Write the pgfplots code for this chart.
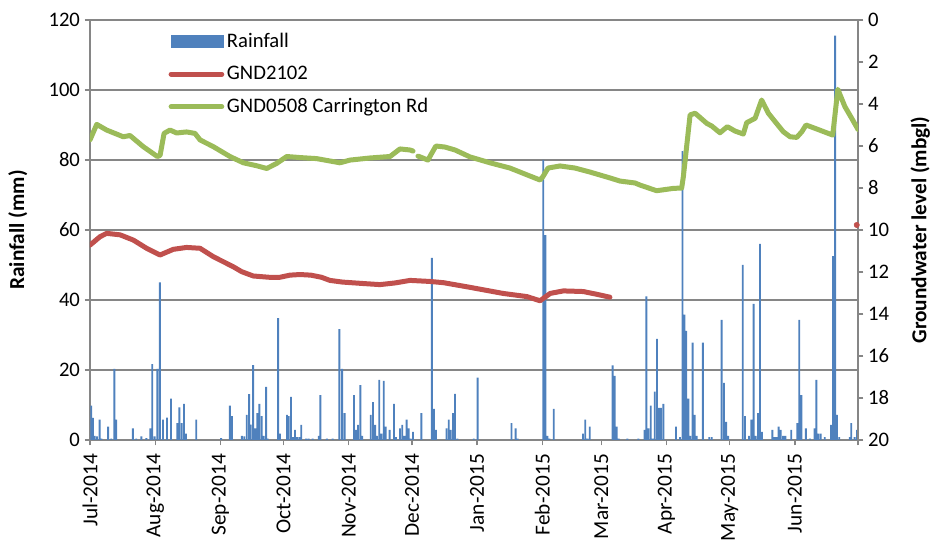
\documentclass[border=0pt]{standalone}
\usepackage{fontspec}
\setmainfont{Carlito}
\usepackage{pgfplots}
\pgfplotsset{compat=1.18}
\definecolor{rainblue}{HTML}{4F81BD}
\definecolor{gndred}{HTML}{C0504D}
\definecolor{gndgreen}{HTML}{9BBB59}
\definecolor{axgray}{HTML}{868686}

\pgfplotstableread{
day mm
0.6 9.8
1.4 6.3
2.2 1.2
3.3 1.0
4.6 5.8
5.4 0.4
8.6 3.8
10.1 0.4
11.6 20.3
12.5 5.8
20.4 3.3
22.0 0.4
24.4 1.0
26.8 0.5
28.7 3.3
29.6 21.7
30.7 1.0
32.0 20.3
33.2 45.0
34.7 5.8
36.6 6.4
38.5 11.8
41.5 4.8
42.5 9.3
43.6 4.8
44.7 10.3
45.6 1.8
50.5 5.8
62.3 0.5
66.5 9.8
67.5 6.8
72.2 1.2
73.3 1.0
74.5 7.2
75.6 13.1
76.4 4.4
77.5 21.4
78.6 3.3
79.5 7.7
80.5 10.3
81.6 6.8
82.5 1.2
83.7 15.2
84.4 0.4
89.4 34.8
90.3 1.8
93.6 7.2
94.4 6.8
95.5 12.3
96.5 0.8
97.4 2.9
98.4 0.8
99.5 0.8
100.4 4.3
102.7 0.4
103.9 0.4
105.8 0.4
108.7 1.2
109.5 12.8
112.6 0.4
115.3 0.4
118.5 31.7
119.8 20.3
121.0 7.7
125.5 12.8
126.4 2.9
127.4 4.3
128.5 15.7
129.4 1.2
133.4 7.2
134.5 10.8
135.5 4.3
136.4 1.2
137.5 17.2
138.5 1.8
139.6 16.9
140.5 3.8
142.4 2.9
144.5 10.3
145.4 0.8
147.3 3.3
148.4 4.3
149.4 1.2
150.5 5.8
151.5 3.3
152.4 0.4
153.5 2.3
157.5 7.7
162.5 52.0
163.5 8.9
164.4 2.9
169.4 3.3
170.5 5.8
171.4 2.9
172.5 7.7
173.5 13.2
174.6 0.4
182.4 0.4
184.2 17.8
200.3 4.8
202.3 3.3
203.3 0.4
215.4 80.0
216.4 58.5
217.4 1.2
218.3 0.4
220.4 8.9
234.3 1.8
235.4 5.8
236.4 0.4
237.5 3.8
248.4 21.3
249.4 18.3
250.3 3.8
251.3 0.4
255.4 0.4
260.6 0.4
263.5 2.9
264.4 41.0
265.4 3.3
266.5 9.8
267.4 0.4
268.4 13.8
269.5 28.9
270.4 9.2
271.4 9.2
272.5 10.3
278.5 3.8
280.4 0.8
281.6 82.5
282.5 35.8
283.4 31.2
284.4 11.8
285.3 1.2
286.4 27.8
287.4 7.2
288.3 1.2
291.3 27.8
294.3 0.8
295.5 0.8
300.2 34.3
301.3 16.3
302.3 5.2
303.3 1.2
310.2 50.0
311.3 6.8
313.2 1.2
314.3 5.8
315.4 38.9
316.4 1.2
317.5 7.7
318.4 56.0
319.4 2.3
324.3 2.9
325.4 0.8
326.4 0.8
327.3 3.8
328.3 2.9
329.4 1.2
330.5 1.2
333.3 2.9
336.2 4.8
337.1 34.3
338.1 12.8
340.2 3.3
342.1 0.4
344.3 3.3
345.2 17.2
346.2 1.8
347.3 1.8
349.2 0.8
352.2 4.3
353.1 52.5
354.1 115.5
355.0 7.2
356.1 0.8
361.1 0.8
361.8 4.8
363.4 0.8
364.5 2.9
}\rainfall

\pgfplotstableread{
day lvl
0 10.72
4.75 10.32
7.9 10.16
14.3 10.23
20.6 10.48
26.9 10.87
33.3 11.19
39.6 10.92
45.9 10.83
52.3 10.87
58.6 11.27
68.1 11.75
72.0 11.98
77.6 12.19
85.0 12.25
90.3 12.25
95.0 12.15
99.8 12.12
105.0 12.15
110.0 12.25
114.0 12.40
120.0 12.48
130.0 12.55
137.8 12.60
145.0 12.52
152.1 12.40
161.6 12.45
168.1 12.51
180.6 12.73
196.3 13.02
207.6 13.17
213.9 13.37
218.7 13.02
225.0 12.90
234.4 12.93
240.8 13.06
247.1 13.20
}\gndred

\pgfplotstableread{
day lvl
0 5.71
3.2 4.97
7.9 5.24
15.8 5.56
19 5.5
25.3 6.03
32.0 6.5
33.3 6.45
35.2 5.4
38 5.24
41.2 5.38
45.9 5.33
49.9 5.4
52.3 5.71
58.6 6.03
66.5 6.5
72.9 6.8
79.2 6.94
84 7.07
88.7 6.83
93.5 6.5
99.8 6.55
107.7 6.6
118.8 6.8
123.6 6.67
133.1 6.57
142.6 6.5
147.3 6.14
152.1 6.19
153.5 6.24
154.5 nan
155.9 6.48
160.6 6.67
162.5 6.33
164.4 6.0
168.7 6.05
173.5 6.19
180.6 6.52
190.1 6.8
199.6 7.05
209.1 7.43
213.9 7.62
215.3 7.45
217.7 7.05
223.4 6.95
230.5 7.05
237.6 7.24
247.1 7.52
251.9 7.67
259 7.76
261.4 7.86
269.3 8.13
277.1 8.02
281.2 8.0
282 7.46
285.2 4.52
287.6 4.44
293.1 4.92
295.5 5.05
299.4 5.37
302.9 5.08
306.6 5.29
310.5 5.43
312.1 4.89
316.1 4.68
319.2 3.81
322.4 4.44
325.6 4.84
329.5 5.32
332.7 5.56
335.9 5.59
338.3 5.32
340.3 5.0
345.4 5.19
350.1 5.37
353 5.48
355.4 3.3
358.8 4.13
362 4.68
365 5.21
}\gndgreen

\begin{document}
\begin{tikzpicture}[x=1pt,y=1pt]
\pgfplotsset{
  every axis/.append style={
    scale only axis, width=576pt, height=315pt,
    xmin=0, xmax=365,
    axis line style={axgray, line width=1pt},
    tick style={axgray, line width=1pt, major tick length=4pt},
    tick align=outside,
    /pgf/number format/assume math mode=true,
    tick label style={font=\fontsize{15.5}{18}\selectfont, black},
  }
}
\begin{axis}[at={(0,0)}, anchor=south west,
  ymin=0, ymax=120, ytick={0,20,...,120},
  ytick pos=left, xtick pos=bottom,
  ymajorgrids, grid style={axgray, line width=1pt},
  xtick={0,31,62,92,123,153,184,215,243,274,304,335,365},
  xticklabels={Jul-2014,Aug-2014,Sep-2014,Oct-2014,Nov-2014,Dec-2014,Jan-2015,Feb-2015,Mar-2015,Apr-2015,May-2015,Jun-2015,{}},
  xticklabel style={rotate=90, anchor=east, font=\fontsize{16}{18}\selectfont},
  xticklabel shift=3pt,
  ylabel={Rainfall (mm)},
  every axis y label/.style={at={(axis description cs:-0.094,0.5)}, rotate=90, anchor=center,
    font=\bfseries\fontsize{16}{18}\selectfont},
]
\addplot[ybar, bar width=1.4pt, bar shift=0pt, fill=rainblue, draw=none] table[x=day, y=mm] {\rainfall};
\end{axis}
\begin{axis}[at={(0,0)}, anchor=south west,
  ymin=0, ymax=20, y dir=reverse, ytick={0,2,...,20},
  axis y line*=right, axis x line=none,
  ylabel={Groundwater level (mbgl)},
  every axis y label/.style={at={(axis description cs:1.081,0.5)}, rotate=90, anchor=center,
    font=\bfseries\fontsize{16}{18}\selectfont},
  unbounded coords=jump,
  legend style={at={(axis description cs:0.102,0.975)}, anchor=north west, draw=none, fill=none,
    font=\fontsize{15.5}{18}\selectfont, row sep=8.5pt, inner sep=0pt},
  legend cell align=left,
  legend image code/.code={\draw[#1, line width=3.75pt, line cap=round] (0pt,0pt) -- (38pt,0pt);},
]
\addlegendimage{legend image code/.code={\fill[rainblue] (0pt,-4.5pt) rectangle (39pt,4.5pt);}}
\addlegendentry{Rainfall}
\addplot[gndred, line width=3.75pt, line join=round, line cap=round] table[x=day, y=lvl] {\gndred};
\addlegendentry{GND2102}
\addplot[gndgreen, line width=3.75pt, line join=round, line cap=round] table[x=day, y=lvl] {\gndgreen};
\addlegendentry{GND0508 Carrington Rd}
\addplot[only marks, mark=*, mark size=2pt, gndred, forget plot] coordinates {(364.4,9.76)};
\end{axis}
\pgfresetboundingbox
\useasboundingbox (-67.5pt,-77.25pt) rectangle (632.25pt,330pt);
\end{tikzpicture}
\end{document}
